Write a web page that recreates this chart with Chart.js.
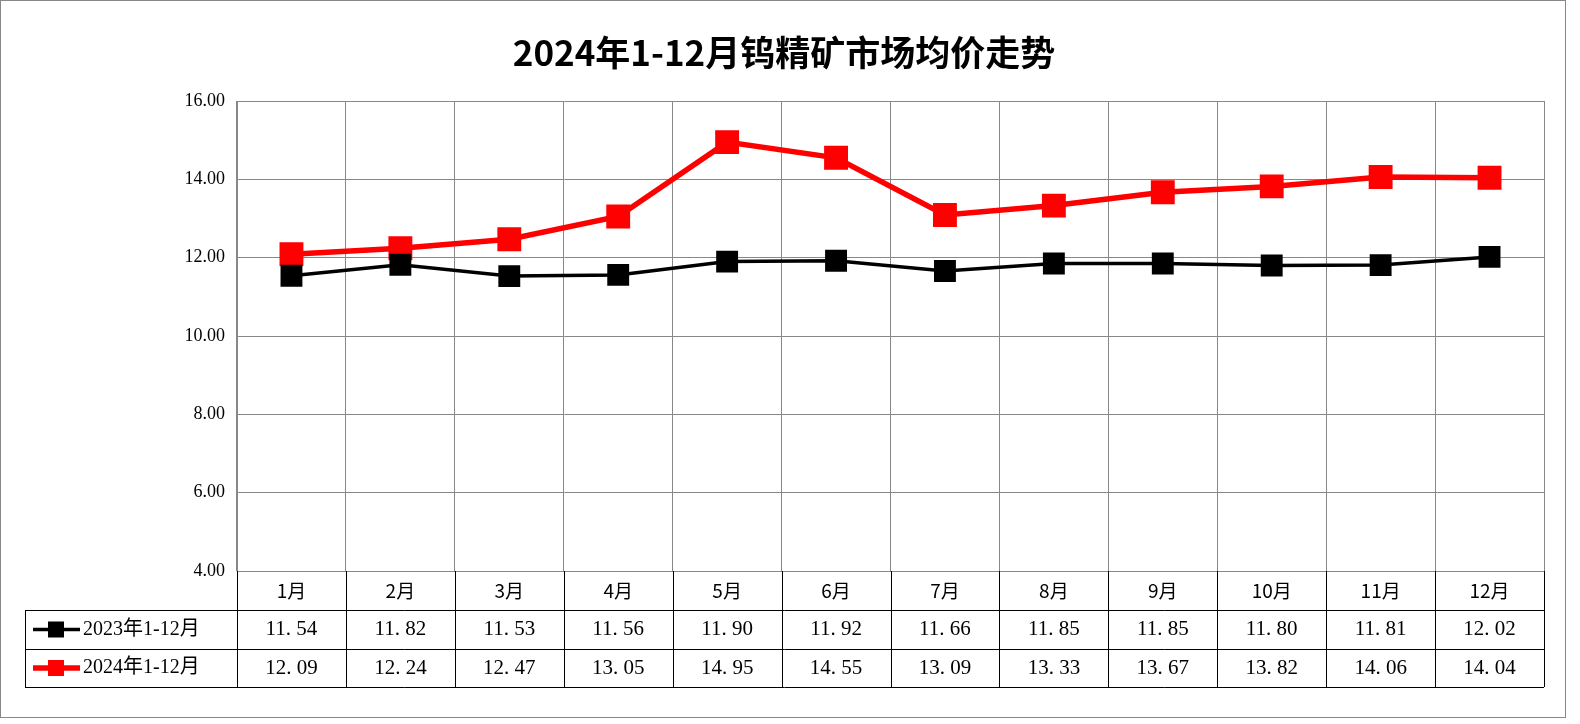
<!DOCTYPE html>
<html lang="zh-CN">
<head>
  <meta charset="UTF-8">
  <title>钨精矿市场均价走势</title>
  <script src="https://cdn.jsdelivr.net/npm/chart.js"></script>
  <style>
    body { margin: 0; background: #fff; }
    #box { width: 1564px; height: 716px; border: 1px solid #888; position: relative; }
  </style>
</head>
<body>
  <div id="box"><canvas id="grafico"></canvas></div>
  <script>
    const meses = ["1月", "2月", "3月", "4月", "5月", "6月", "7月", "8月", "9月", "10月", "11月", "12月"];
    const preco2023 = [11.54, 11.82, 11.53, 11.56, 11.90, 11.92, 11.66, 11.85, 11.85, 11.80, 11.81, 12.02];
    const preco2024 = [12.09, 12.24, 12.47, 13.05, 14.95, 14.55, 13.09, 13.33, 13.67, 13.82, 14.06, 14.04];
    const series = [
      { nome: "2023年1-12月", dados: preco2023, cor: "#000000", largura: 3.5 },
      { nome: "2024年1-12月", dados: preco2024, cor: "#ff0000", largura: 5.5 }
    ];

    const tabela = {
      id: 'tabela',
      afterDraw(chart) {
        const c = chart.ctx, a = chart.chartArea, x = chart.scales.x;
        const esq = 24, rows = [a.bottom, a.bottom + 39, a.bottom + 78, a.bottom + 116];
        c.save();
        c.fillStyle = '#000';
        c.font = 'bold 35px "Noto Sans CJK SC"';
        c.textAlign = 'center';
        c.textBaseline = 'middle';
        c.fillText('2024年1-12月钨精矿市场均价走势', 783, 52);

        c.strokeStyle = '#000';
        c.lineWidth = 1;
        c.beginPath();
        for (let r = 1; r < 4; r++) { c.moveTo(esq, rows[r] + 0.5); c.lineTo(a.right, rows[r] + 0.5); }
        c.moveTo(esq + 0.5, rows[1]); c.lineTo(esq + 0.5, rows[3]);
        const w = (a.right - a.left) / meses.length;
        for (let i = 0; i <= meses.length; i++) {
          const px = Math.round(a.left + i * w) + 0.5;
          c.moveTo(px, rows[0]); c.lineTo(px, rows[3]);
        }
        c.stroke();

        c.font = '19px "Noto Sans CJK SC"';
        meses.forEach((m, i) => c.fillText(m, x.getPixelForValue(i), (rows[0] + rows[1]) / 2));
        series.forEach((s, k) => {
          const cy = (rows[k + 1] + rows[k + 2]) / 2;
          c.strokeStyle = s.cor; c.lineWidth = s.largura;
          c.beginPath(); c.moveTo(32, cy); c.lineTo(79, cy); c.stroke();
          c.fillStyle = s.cor; c.fillRect(47, cy - 8, 16, 16);
          c.fillStyle = '#000';
          c.textAlign = 'left';
          c.font = '20px "Liberation Serif", "Noto Sans CJK SC"';
          c.fillText(s.nome, 82, cy);
          c.textAlign = 'center';
          c.font = '21px "Liberation Serif"';
          s.dados.forEach((v, i) => c.fillText(v.toFixed(2).replace('.', '. '), x.getPixelForValue(i), cy));
        });
        c.restore();
      }
    };

    new Chart(document.getElementById('grafico'), {
      type: 'line',
      data: {
        labels: meses,
        datasets: series.map(s => ({
          label: s.nome, data: s.dados, borderColor: s.cor, backgroundColor: s.cor,
          borderWidth: s.largura, pointStyle: 'rect', pointRadius: 13, pointHoverRadius: 13, tension: 0
        }))
      },
      plugins: [tabela],
      options: {
        responsive: true, maintainAspectRatio: false, animation: false,
        layout: { padding: { top: 100, right: 21, bottom: 146, left: 0 } },
        plugins: { legend: { display: false }, tooltip: { enabled: false } },
        scales: {
          x: {
            offset: true,
            grid: { offset: true, color: '#888', drawTicks: false },
            border: { color: '#888' },
            ticks: { display: false },
            afterFit: s => { s.height = 0; }
          },
          y: {
            min: 4, max: 16,
            ticks: { stepSize: 2, color: '#000', font: { family: 'Liberation Serif', size: 18 }, callback: v => v.toFixed(2), padding: 12 },
            grid: { color: '#888', drawTicks: false },
            border: { color: '#888' },
            afterFit: s => { s.width = 236; }
          }
        }
      }
    });
  </script>
</body>
</html>
